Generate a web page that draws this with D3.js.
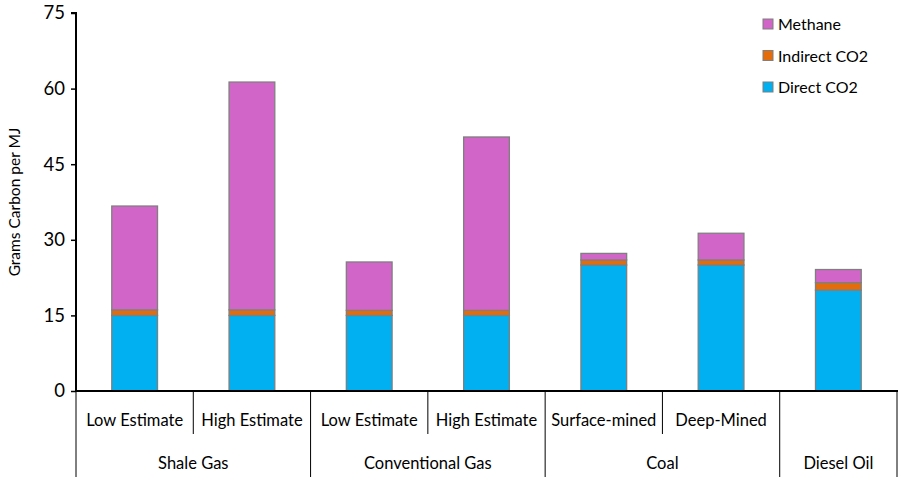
<!DOCTYPE html>
<html><head><meta charset="utf-8">
<script src="https://cdn.jsdelivr.net/npm/d3@7"></script>
<style>body{margin:0;background:#fff}svg{display:block}text{font-family:Lato,"Open Sans",sans-serif;fill:#000}</style>
</head><body><svg id="c" width="898" height="477"></svg>
<script>
const subLabels = ["Low Estimate","High Estimate","Low Estimate","High Estimate","Surface-mined","Deep-Mined",""];
const groupLabels = ["Shale Gas","Shale Gas","Conventional Gas","Conventional Gas","Coal","Coal","Diesel Oil"];
const groups = [{name:"Shale Gas",start:0,n:2},{name:"Conventional Gas",start:2,n:2},{name:"Coal",start:4,n:2},{name:"Diesel Oil",start:6,n:1}];
const directCO2 = [15, 15, 15, 15, 25, 25, 20];
const indirectCO2 = [1.1, 1.1, 1.0, 1.0, 1.0, 1.0, 1.5];
const methane = [20.6, 45.2, 9.6, 34.4, 1.3, 5.3, 2.6];
const seriesNames = ["Direct CO2","Indirect CO2","Methane"];
const seriesColors = ["#00B0F0","#E46C0A","#D166C8"];
const yTicks = [0,15,30,45,60,75];

const svg = d3.select("#c");
const m = {l:76, r:897, t:13, b:391};
const idx = d3.range(subLabels.length);
const x = d3.scaleBand().domain(idx).range([m.l, m.r]).paddingInner(0.61).paddingOuter(0.305);
const xs = d3.scaleBand().domain(idx).range([m.l, m.r]);
const y = d3.scaleLinear().domain([0,75]).range([m.b, m.t]);

const rows = idx.map(i => ({i, "Direct CO2":directCO2[i], "Indirect CO2":indirectCO2[i], "Methane":methane[i]}));
const stack = d3.stack().keys(seriesNames)(rows);

svg.append("g").selectAll("g").data(stack).join("g")
  .attr("fill",(d,k)=>seriesColors[k])
  .selectAll("rect").data(d=>d).join("rect")
  .attr("x",d=>x(d.data.i)).attr("width",x.bandwidth())
  .attr("y",d=>y(d[1])).attr("height",d=>y(d[0])-y(d[1]))
  .attr("stroke","#7f7f7f").attr("stroke-width",1.3);

// y axis
const ya = svg.append("g").attr("transform",`translate(${m.l},0)`)
  .call(d3.axisLeft(y).tickValues(yTicks).tickSize(5).tickPadding(6).tickFormat(d3.format("d")));
ya.select(".domain").attr("stroke","#000").attr("stroke-width",2).attr("d",`M-5,${m.t}H0V${m.b}`);
ya.selectAll(".tick line").attr("stroke","#000").attr("stroke-width",1.5);
ya.selectAll(".tick text").style("font-size","18.5px").attr("font-family","Lato,'Open Sans',sans-serif");

svg.append("text").attr("transform",`translate(20,${(m.t+m.b)/2}) rotate(-90)`)
  .attr("text-anchor","middle").style("font-size","15.5px").text("Grams Carbon per MJ");

// x axis line
svg.append("line").attr("x1",m.l-1).attr("x2",m.r+1).attr("y1",m.b).attr("y2",m.b).attr("stroke","#000").attr("stroke-width",2);

// category separators
const ax = svg.append("g");
idx.forEach(i=>{
  const xx = xs(i);
  const isGroupStart = groups.some(g=>g.start===i);
  ax.append("line").attr("x1",xx).attr("x2",xx).attr("y1",m.b).attr("y2",isGroupStart?477:434)
    .attr("stroke","#000").attr("stroke-width",1);
});
ax.append("line").attr("x1",m.r).attr("x2",m.r).attr("y1",m.b).attr("y2",477).attr("stroke","#000").attr("stroke-width",1);

ax.selectAll("text.sub").data(idx).join("text").attr("class","sub")
  .attr("x",i=>xs(i)+xs.bandwidth()/2).attr("y",426).attr("text-anchor","middle")
  .style("font-size","16.5px").text(i=>subLabels[i]);
ax.selectAll("text.grp").data(groups).join("text").attr("class","grp")
  .attr("x",g=>(xs(g.start)+xs(g.start+g.n-1)+xs.bandwidth())/2).attr("y",469).attr("text-anchor","middle")
  .style("font-size","16.5px").text(g=>g.name);

// legend
const legOrder = [2,1,0];
const lg = svg.append("g");
legOrder.forEach((k,j)=>{
  const yy = 24 + j*31.5;
  lg.append("rect").attr("x",763).attr("y",yy-5).attr("width",10).attr("height",10)
    .attr("fill",seriesColors[k]).attr("stroke","#7f7f7f").attr("stroke-width",1);
  lg.append("text").attr("x",778).attr("y",yy+6).style("font-size","16px").text(seriesNames[k]);
});
</script></body></html>
